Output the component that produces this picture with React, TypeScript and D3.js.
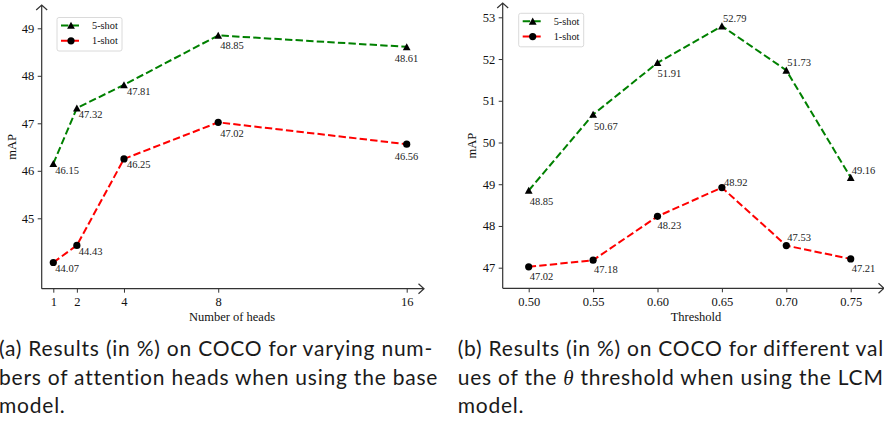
import React, { useEffect, useRef } from 'react';
import * as d3 from 'd3';

// panel (a): number of attention heads
const headCounts = [1, 2, 4, 8, 16];
const heads5shot = [46.15, 47.32, 47.81, 48.85, 48.61];
const heads1shot = [44.07, 44.43, 46.25, 47.02, 46.56];
const headYTicks = [45, 46, 47, 48, 49];

// panel (b): theta threshold
const thresholds = [0.5, 0.55, 0.6, 0.65, 0.7, 0.75];
const thr5shot = [48.85, 50.67, 51.91, 52.79, 51.73, 49.16];
const thr1shot = [47.02, 47.18, 48.23, 48.92, 47.53, 47.21];
const thrYTicks = [47, 48, 49, 50, 51, 52, 53];

const seriesNames = ['5-shot', '1-shot'];
const captionA = [
  '(a) Results (in %) on COCO for varying num-',
  'bers of attention heads when using the base',
  'model.',
];
const captionB = [
  '(b) Results (in %) on COCO for different val-',
  ['ues of the ', 'θ', ' threshold when using the LCM'],
  'model.',
];

const SERIF = '"Liberation Serif", "DejaVu Serif", serif';
const SANS = 'Lato, "Open Sans", sans-serif';
const colors = ['#008000', '#ff0000'];

// where each value label sits relative to its marker (px)
const labelOffA = [
  [[2, 10], [2, 10], [3, 10], [2, 14], [-12, 15.5]],
  [[2, 9.5], [2, 9.5], [3, 9.5], [2, 14.5], [-12, 15.5]],
];
const labelOffB = [
  [[1, 14.5], [1, 15], [0, 14.5], [1, -4], [1, -4], [1, -3.5]],
  [[1, 13], [1, 12.5], [0, 13], [2, -2], [1, -5], [1, 13]],
];

function triangle(r) {
  const p = d3.path();
  p.moveTo(0, -r);
  p.lineTo(r * 1.05, r * 0.9);
  p.lineTo(-r * 1.05, r * 0.9);
  p.closePath();
  return p.toString();
}

function drawPanel(svg, cfg) {
  const g = svg.append('g');
  const x = d3.scaleLinear().domain(cfg.xDomain).range(cfg.xRange);
  const y = d3.scaleLinear().domain(cfg.yDomain).range(cfg.yRange);
  const axisColor = '#333';

  // y ticks
  const ya = g.append('g')
    .attr('transform', `translate(${cfg.axisX},0)`)
    .call(d3.axisLeft(y).tickValues(cfg.yTicks).tickSize(4).tickPadding(3.5).tickFormat(d3.format('d')));
  // x ticks
  const xa = g.append('g')
    .attr('transform', `translate(0,${cfg.axisY})`)
    .call(d3.axisBottom(x).tickValues(cfg.xs).tickSize(4).tickPadding(4.5).tickFormat(cfg.xFormat));
  [ya, xa].forEach(a => {
    a.select('.domain').remove();
    a.selectAll('line').attr('stroke', axisColor).attr('stroke-width', 1);
    a.selectAll('text').attr('font-family', SERIF).attr('font-size', 12.5).attr('fill', '#111');
  });

  // spines with open arrow heads
  g.append('path')
    .attr('d', `M${cfg.axisX},${cfg.axisY}V${cfg.yTop}M${cfg.axisX - 5.5},${cfg.yTop + 5}L${cfg.axisX},${cfg.yTop}L${cfg.axisX + 5.5},${cfg.yTop + 5}`)
    .attr('fill', 'none').attr('stroke', axisColor).attr('stroke-width', 1.2);
  g.append('path')
    .attr('d', `M${cfg.axisX},${cfg.axisY}H${cfg.xRight}M${cfg.xRight - 5.5},${cfg.axisY - 5}L${cfg.xRight},${cfg.axisY}L${cfg.xRight - 5.5},${cfg.axisY + 5}`)
    .attr('fill', 'none').attr('stroke', axisColor).attr('stroke-width', 1.2);

  // axis titles
  g.append('text')
    .attr('x', cfg.xLabelX).attr('y', cfg.axisY + 32.5)
    .attr('text-anchor', 'middle')
    .attr('font-family', SERIF).attr('font-size', 12.5).attr('fill', '#111')
    .text(cfg.xLabel);
  g.append('text')
    .attr('transform', `translate(${cfg.yLabelX},${(cfg.axisY + cfg.yTop) / 2}) rotate(-90)`)
    .attr('text-anchor', 'middle')
    .attr('font-family', SERIF).attr('font-size', 12.5).attr('fill', '#111')
    .text('mAP');

  const line = d3.line().x((_, i) => x(cfg.xs[i])).y(d => y(d));
  cfg.series.forEach((vals, si) => {
    g.append('path').datum(vals)
      .attr('d', line)
      .attr('fill', 'none').attr('stroke', colors[si])
      .attr('stroke-width', 2).attr('stroke-dasharray', '7.4,3.2');
  });
  cfg.series.forEach((vals, si) => {
    vals.forEach((v, i) => {
      if (si === 0) {
        g.append('path').attr('d', triangle(3.7))
          .attr('transform', `translate(${x(cfg.xs[i])},${y(v)})`).attr('fill', '#000');
      } else {
        g.append('circle').attr('cx', x(cfg.xs[i])).attr('cy', y(v)).attr('r', 3.6).attr('fill', '#000');
      }
      const [dx, dy] = cfg.labelOff[si][i];
      g.append('text')
        .attr('x', x(cfg.xs[i]) + dx).attr('y', y(v) + dy)
        .attr('font-family', SERIF).attr('font-size', 10.5).attr('fill', '#222')
        .text(v.toFixed(2));
    });
  });

  // legend
  const lg = g.append('g').attr('transform', `translate(${cfg.legend[0]},${cfg.legend[1]})`);
  lg.append('rect').attr('width', 65).attr('height', 33.5).attr('rx', 2)
    .attr('fill', '#fff').attr('fill-opacity', 0.8).attr('stroke', '#d0d0d0').attr('stroke-width', 0.8);
  seriesNames.forEach((name, si) => {
    const yy = 8 + si * 15.3;
    lg.append('line').attr('x1', 4).attr('x2', 24).attr('y1', yy).attr('y2', yy)
      .attr('stroke', colors[si]).attr('stroke-width', 2).attr('stroke-dasharray', '7.4,3.2');
    if (si === 0) {
      lg.append('path').attr('d', triangle(3.7)).attr('transform', `translate(14,${yy})`).attr('fill', '#000');
    } else {
      lg.append('circle').attr('cx', 14).attr('cy', yy).attr('r', 3.6).attr('fill', '#000');
    }
    lg.append('text').attr('x', 35).attr('y', yy + 3.6)
      .attr('font-family', SERIF).attr('font-size', 10.3).attr('fill', '#111')
      .text(name);
  });
}

function drawCaption(svg, lines, x0) {
  const baselines = [356, 384.5, 412.5];
  return lines.map((ln, i) => {
    const t = svg.append('text')
      .attr('class', 'caption')
      .attr('x', x0).attr('y', baselines[i])
      .attr('font-family', SANS).attr('font-size', 21).attr('fill', '#1a1a1a');
    if (Array.isArray(ln)) {
      ln.forEach((part, k) => {
        const sp = t.append('tspan').text(part);
        if (k === 1) sp.attr('font-family', SERIF).attr('font-style', 'italic');
      });
    } else {
      t.text(ln);
    }
    return t;
  });
}

export default function App() {
  const ref = useRef(null);

  useEffect(() => {
    const svg = d3.select(ref.current);
    svg.selectAll('*').remove();

    drawPanel(svg, {
      xs: headCounts, series: [heads5shot, heads1shot],
      xDomain: [1, 16], xRange: [53.3, 406.7],
      yDomain: [45, 49], yRange: [218.3, 28.3], yTicks: headYTicks,
      axisX: 41.7, axisY: 288.7, yTop: 5, xRight: 424,
      xFormat: d3.format('d'), xLabel: 'Number of heads', xLabelX: 232, yLabelX: 16,
      labelOff: labelOffA, legend: [57, 17.5],
    });
    drawPanel(svg, {
      xs: thresholds, series: [thr5shot, thr1shot],
      xDomain: [0.5, 0.75], xRange: [528.7, 850.7],
      yDomain: [47, 53], yRange: [267.7, 17.3], yTicks: thrYTicks,
      axisX: 502.7, axisY: 288.3, yTop: 3, xRight: 884,
      xFormat: d3.format('.2f'), xLabel: 'Threshold', xLabelX: 696, yLabelX: 476,
      labelOff: labelOffB, legend: [518.7, 13.3],
    });

    const capA = drawCaption(svg, captionA, -1);
    drawCaption(svg, captionB, 457.7);

    // tracking so that line one of (a) spans ~434px like the original
    const first = capA[0].node();
    const natural = first.getComputedTextLength();
    const n = captionA[0].length;
    const ls = (434 - natural) / n;
    svg.selectAll('text.caption').attr('letter-spacing', ls);
  }, []);

  return (
    <svg ref={ref} width={884} height={422}
      style={{ position: 'absolute', left: 0, top: 0, background: '#fff', overflow: 'hidden' }} />
  );
}
